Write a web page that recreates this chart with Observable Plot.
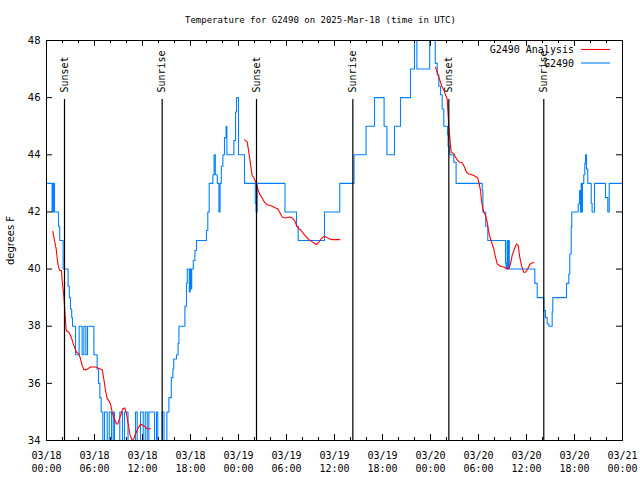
<!DOCTYPE html>
<html><head><meta charset="utf-8">
<script src="https://cdn.jsdelivr.net/npm/d3@7"></script>
<script src="https://cdn.jsdelivr.net/npm/@observablehq/plot@0.6"></script>
<style>
body{margin:0;background:#fff;}
#wrap{position:relative;width:640px;height:480px;}
</style></head><body><div id="wrap"></div>
<script>
const title = "Temperature for G2490 on 2025-Mar-18 (time in UTC)";
const yLabel = "degrees F";
const seriesNames = ["G2490 Analysis", "G2490"];
const seriesColors = ["#ff0000", "#0080ff"];
const yTicks = [34, 36, 38, 40, 42, 44, 46, 48];
const majorTickHours = [0, 6, 12, 18, 24, 30, 36, 42, 48, 54, 60, 66, 72];
const tickLabelDates = ["03/18","03/18","03/18","03/18","03/19","03/19","03/19","03/19","03/20","03/20","03/20","03/20","03/21"];
const tickLabelTimes = ["00:00","06:00","12:00","18:00","00:00","06:00","12:00","18:00","00:00","06:00","12:00","18:00","00:00"];
const sunEventHours = [2.25, 14.46, 26.25, 38.29, 50.29, 62.16];
const sunEventLabels = ["Sunset", "Sunrise", "Sunset", "Sunrise", "Sunset", "Sunrise"];

// G2490 observations: [hours since 2025-03-18 00:00 UTC, degrees F]
const obsPoints = [
[0,43],[0.7,42],[0.78,43],[0.85,42],[0.93,43],[1.0,42],[1.5,41.5],[1.65,41],[2.08,40],[2.7,39.4],[2.85,39],[3.0,38.6],[3.15,38.3],[3.25,38],[3.63,37],[4.08,38],[4.45,37],[4.67,38],[4.92,37],[5.13,38],[5.92,37],[6.33,36.5],[6.5,36],[6.67,35.5],[6.83,35],
[7.04,33],[7.25,35],[7.59,33],[7.84,35],[8.125,33],[8.34,35],[8.5,33],[9.16,35],[9.5,33],[9.75,35],[10.19,33],[11.125,35],[11.34,33],[11.75,35],[12.09,34],[12.34,35],[12.59,33],[12.79,35],[13.5,33],[13.75,35],[13.91,33],[14.46,35],[14.69,33],[15.05,35],
[15.3,35.5],[15.6,36.2],[15.8,36.5],[15.9,36.85],[16.25,37],[16.45,37.4],[16.55,38],[17.3,38.7],[17.5,39.5],[17.6,40],[17.85,39.2],[17.95,40],[18.05,39.3],[18.15,40],[18.35,40.3],[18.55,40.65],[18.75,41],[20.0,41.35],[20.16,42],[20.34,43],[20.8,43.3],[20.95,44],[21.1,43.3],[21.35,43],[21.55,42],[21.7,43],[21.85,43.6],[22.05,44],[22.25,44.6],[22.45,45],[22.55,44],[23.42,44.5],[23.63,45.5],[23.75,46],[24.0,44],[24.75,43],[26.1,42.3],[26.2,42],[26.34,43],[29.81,42],[31.25,41.5],[31.46,41],[34.75,42],[36.66,43],[38.44,44],[39.94,45],[41.0,46],[42.2,45],[42.55,44],[43.5,45],[44.25,46],[45.5,47],[46.0,48.3],[46.3,47],[47.9,48.3],[48.6,47.2],[48.84,46.8],[49.04,46.4],[49.25,46.1],[49.46,45.6],[49.66,45],[50.125,44.7],[50.2,44.3],[50.4,44],[50.91,43.74],[51.2,43],[54.46,42.75],[54.55,42],[54.9,41.5],[55.16,41],[57.375,40.2],[57.45,40],[57.58,41],[57.65,40],[57.75,41],[57.85,40],[61.04,39.5],[61.34,39],[62.16,38.55],[62.375,38.3],[62.59,38.08],[62.79,38],[63.21,38.5],[63.29,39],[65.0,39.5],[65.29,39.83],[65.41,40.53],[65.59,41.47],[65.66,42],[66.46,42.28],[66.625,42.75],[66.75,42],[66.84,43],[66.9,42],[67.0,43],[67.16,43.3],[67.29,43.7],[67.375,44],[67.5,43.5],[67.66,43],[68.09,42.3],[68.2,42],[68.5,43],[69.875,42.5],[70.16,42],[70.34,43],[72,43]
];

// G2490 Analysis segments
const analysisSeg1 = [
[0.79,41.32],[1.0,41.0],[1.21,40.71],[1.34,40.36],[1.46,40.12],[1.66,39.95],[1.875,39.95],[1.96,39.6],[2.16,39.07],[2.29,38.55],[2.46,37.85],[2.79,37.79],[3.09,37.62],[3.41,37.33],[3.75,37.09],[4.04,37.03],[4.25,36.86],[4.46,36.62],[4.66,36.48],[5.0,36.48],[5.5,36.57],[6.125,36.57],[6.41,36.54],[6.96,36.48],[7.16,36.16],[7.375,35.75],[7.59,35.46],[7.79,35.4],[8.0,35.28],[8.21,34.99],[8.5,34.76],[8.75,34.58],[8.91,34.58],[9.25,34.87],[9.54,35.11],[9.79,35.14],[10.0,34.93],[10.21,34.58],[10.41,34.23],[10.71,34.0],[10.91,34.06],[11.125,34.23],[11.41,34.41],[11.75,34.58],[12.25,34.5],[12.59,34.41],[13.0,34.41]
];
const analysisSeg2 = [
[24.75,44.52],[25.09,44.45],[25.29,44.09],[25.5,43.68],[25.71,43.27],[26.0,43.16],[26.21,42.98],[26.41,42.81],[26.625,42.63],[26.96,42.49],[27.25,42.34],[27.59,42.25],[28.21,42.2],[28.625,42.14],[28.91,42.11],[29.16,41.99],[29.46,41.82],[29.875,41.79],[30.41,41.82],[30.71,41.79],[31.0,41.7],[31.25,41.53],[31.54,41.41],[31.84,41.35],[32.16,41.23],[32.5,41.12],[32.79,41.03],[33.09,40.98],[33.41,40.91],[33.75,40.86],[34.04,40.94],[34.34,41.06],[34.66,41.14],[35.0,41.12],[35.29,41.06],[35.71,41.03],[36.66,41.03]
];
const analysisSeg3 = [
[48.625,47.07],[48.84,46.89],[49.04,46.72],[49.25,46.54],[49.46,46.37],[49.66,46.27],[49.875,46.1],[50.09,45.95],[50.16,45.6],[50.29,44.97],[50.41,44.6],[50.59,44.09],[50.91,44.04],[51.125,43.92],[51.41,43.8],[51.625,43.74],[51.96,43.72],[52.25,43.57],[52.5,43.39],[52.79,43.33],[53.21,43.3],[53.625,43.24],[53.91,43.19],[54.04,43.04],[54.25,42.75],[54.375,42.4],[54.5,42.17],[54.66,41.99],[54.875,41.88],[55.09,41.64],[55.29,41.29],[55.5,41.06],[55.71,40.88],[55.91,40.71],[56.125,40.42],[56.34,40.18],[56.75,40.1],[57.16,40.07],[57.59,40.01],[57.79,40.01],[58.0,40.18],[58.21,40.48],[58.5,40.71],[58.75,40.88],[58.96,40.83],[59.16,40.42],[59.375,40.12],[59.66,39.89],[59.875,39.89],[60.16,40.01],[60.41,40.16],[60.71,40.22],[60.91,40.22]
];

const t0 = Date.UTC(2025, 2, 18);
const toDate = h => new Date(t0 + h * 3600e3);
const obs = obsPoints.map(([h, v]) => ({t: toDate(h), v}));
const ana = [analysisSeg1, analysisSeg2, analysisSeg3].flatMap((seg, i) => seg.map(([h, v]) => ({t: toDate(h), v, seg: i})));
const events = sunEventHours.map((h, i) => ({t: toDate(h), label: sunEventLabels[i]}));
const major = majorTickHours.map(toDate);
const minor = d3.utcHour.every(2).range(toDate(0), toDate(72.01));
const labelFor = new Map(major.map((d, i) => [+d, tickLabelDates[i] + "\n" + tickLabelTimes[i]]));

const mono = "DejaVu Sans Mono";
const sans = "DejaVu Sans";

const plot = Plot.plot({
  width: 640, height: 480,
  marginLeft: 46, marginRight: 18, marginTop: 40, marginBottom: 40,
  style: {fontFamily: mono, fontSize: "10px", background: "white", color: "black"},
  x: {type: "utc", domain: [toDate(0), toDate(72)]},
  y: {domain: [34, 48]},
  marks: [
    Plot.line(obs, {x: "t", y: "v", curve: "step-after", stroke: seriesColors[1], strokeWidth: 1.1, clip: true}),
    Plot.line(ana, {x: "t", y: "v", z: "seg", stroke: seriesColors[0], strokeWidth: 1.1, clip: true}),
    Plot.ruleX(events, {x: "t", insetTop: 59, stroke: "black", strokeWidth: 1.2}),
    Plot.text(events, {x: "t", text: "label", frameAnchor: "top", dy: 52, rotate: -90, textAnchor: "start", lineAnchor: "middle", fontFamily: mono, fontSize: 10, fill: "black"}),
    // ticks (inward)
    Plot.tickX(minor, {x: d => d, insetTop: 397, stroke: "black"}),
    Plot.tickX(minor, {x: d => d, insetBottom: 397, stroke: "black"}),
    Plot.tickX(major, {x: d => d, insetTop: 394, stroke: "black"}),
    Plot.tickX(major, {x: d => d, insetBottom: 394, stroke: "black"}),
    Plot.tickY(yTicks, {y: d => d, insetRight: 570, stroke: "black"}),
    Plot.tickY(yTicks, {y: d => d, insetLeft: 570, stroke: "black"}),
    Plot.axisX(major, {tickSize: 0, tickPadding: 9, tickFormat: d => labelFor.get(+d), lineHeight: 1.3, label: null, fontFamily: mono, fontSize: 10}),
    Plot.axisY(yTicks, {tickSize: 0, tickPadding: 6, label: yLabel, labelAnchor: "center", labelArrow: "none", labelOffset: 40, fontFamily: sans, fontSize: 10}),
    Plot.text([title], {frameAnchor: "top", dx: -14, dy: -20, lineAnchor: "middle", fontFamily: mono, fontSize: 9, fill: "black"}),
    Plot.frame({stroke: "black"})
  ]
});
document.getElementById("wrap").appendChild(plot);

// legend (top-right, inside the frame)
const svg = d3.select(plot);
const lg = svg.append("g").attr("font-family", mono).attr("font-size", 10);
seriesNames.forEach((name, i) => {
  const y = 49.5 + i * 13.5;
  lg.append("text").attr("x", 574).attr("y", y).attr("dy", "0.35em").attr("text-anchor", "end").attr("fill", "black").text(name);
  lg.append("line").attr("x1", 581).attr("x2", 610).attr("y1", y).attr("y2", y).attr("stroke", seriesColors[i]).attr("stroke-width", 1.1);
});
</script></body></html>
